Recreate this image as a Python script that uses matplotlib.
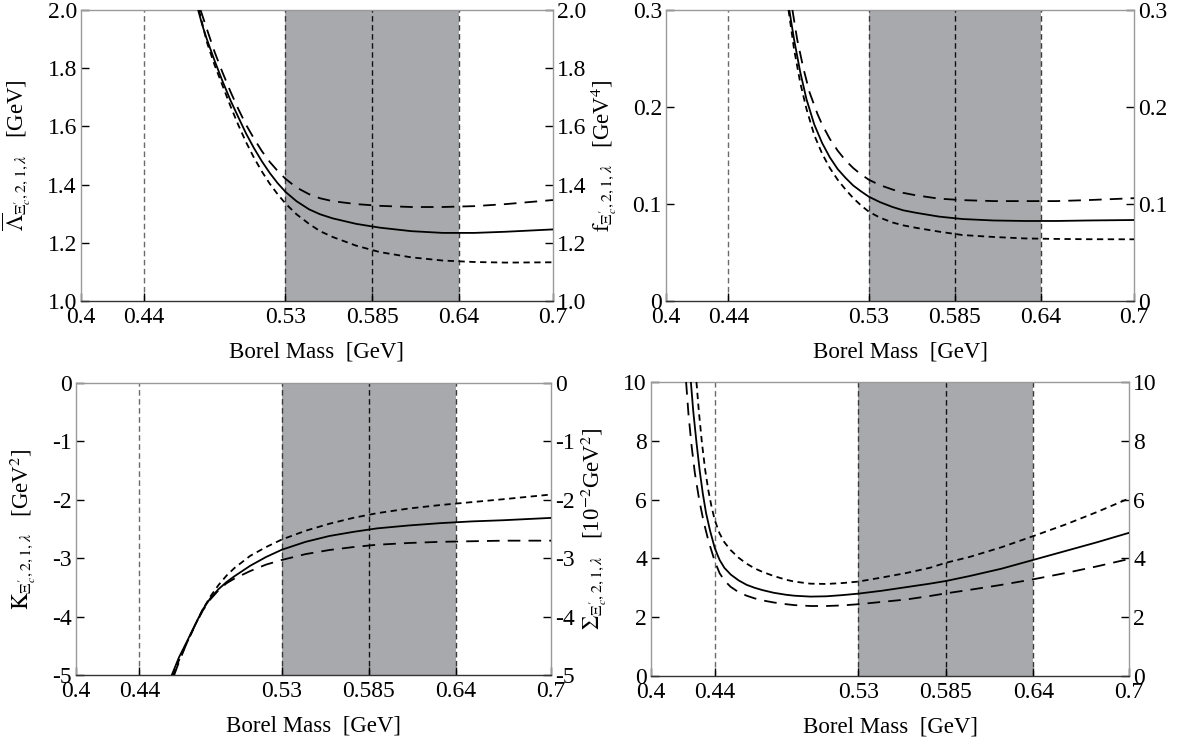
import matplotlib
matplotlib.use("Agg")
import matplotlib.pyplot as plt

plt.rcParams['font.family'] = ['Liberation Serif', 'DejaVu Serif']
plt.rcParams['mathtext.fontset'] = 'stix'

# window lines and shaded working region
m_lines = [0.44, 0.53, 0.585, 0.64]
line_colors = ['#6a6a6a', '#3a3a3a', '#111111', '#3a3a3a']
band = (0.53, 0.64)
x_ticks = [0.4, 0.44, 0.53, 0.585, 0.64, 0.7]
x_labels = ['0.4', '0.44', '0.53', '0.585', '0.64', '0.7']

# panel 1: Lambda bar [GeV]
lam_m_mid = [0.4745, 0.477, 0.48, 0.485, 0.49, 0.495, 0.50, 0.505, 0.51, 0.515, 0.52, 0.525, 0.53, 0.537, 0.545, 0.552, 0.56, 0.575, 0.59, 0.61, 0.63, 0.65, 0.67, 0.70]
lam_mid = [2.0, 1.95, 1.90, 1.825, 1.755, 1.69, 1.632, 1.575, 1.525, 1.48, 1.44, 1.405, 1.375, 1.343, 1.315, 1.298, 1.284, 1.265, 1.252, 1.240, 1.234, 1.234, 1.238, 1.246]
lam_m_up = [0.476, 0.48, 0.485, 0.49, 0.495, 0.50, 0.505, 0.51, 0.515, 0.52, 0.525, 0.53, 0.537, 0.545, 0.552, 0.56, 0.575, 0.59, 0.61, 0.63, 0.65, 0.67, 0.70]
lam_up = [2.0, 1.935, 1.855, 1.785, 1.72, 1.66, 1.605, 1.558, 1.515, 1.478, 1.447, 1.42, 1.39, 1.367, 1.353, 1.343, 1.333, 1.327, 1.323, 1.323, 1.326, 1.333, 1.347]
lam_m_lo = [0.475, 0.48, 0.485, 0.49, 0.495, 0.50, 0.505, 0.51, 0.515, 0.52, 0.525, 0.53, 0.537, 0.545, 0.552, 0.56, 0.575, 0.59, 0.61, 0.63, 0.65, 0.67, 0.70]
lam_lo = [2.0, 1.89, 1.81, 1.74, 1.67, 1.605, 1.545, 1.492, 1.445, 1.403, 1.367, 1.335, 1.298, 1.265, 1.24, 1.22, 1.19, 1.168, 1.15, 1.139, 1.134, 1.132, 1.133]

# panel 2: f [GeV^4]
f_m_mid = [0.479, 0.482, 0.486, 0.49, 0.495, 0.50, 0.505, 0.51, 0.515, 0.52, 0.525, 0.53, 0.537, 0.545, 0.552, 0.56, 0.575, 0.59, 0.61, 0.63, 0.65, 0.67, 0.70]
f_mid = [0.30, 0.27, 0.236, 0.208, 0.182, 0.163, 0.148, 0.136, 0.127, 0.119, 0.113, 0.1075, 0.102, 0.097, 0.0935, 0.091, 0.087, 0.0845, 0.083, 0.0825, 0.0825, 0.083, 0.0835]
f_m_up = [0.481, 0.484, 0.488, 0.492, 0.497, 0.50, 0.505, 0.51, 0.515, 0.52, 0.525, 0.53, 0.537, 0.545, 0.552, 0.56, 0.575, 0.59, 0.61, 0.63, 0.65, 0.67, 0.70]
f_up = [0.30, 0.27, 0.24, 0.215, 0.193, 0.182, 0.167, 0.155, 0.145, 0.137, 0.1305, 0.125, 0.1195, 0.115, 0.1115, 0.109, 0.1055, 0.104, 0.103, 0.103, 0.103, 0.104, 0.106]
f_m_lo = [0.4785, 0.482, 0.486, 0.49, 0.495, 0.50, 0.505, 0.51, 0.515, 0.52, 0.525, 0.53, 0.537, 0.545, 0.552, 0.56, 0.575, 0.59, 0.61, 0.63, 0.65, 0.67, 0.70]
f_lo = [0.30, 0.26, 0.225, 0.198, 0.171, 0.152, 0.137, 0.125, 0.115, 0.106, 0.0985, 0.092, 0.086, 0.081, 0.078, 0.0755, 0.0715, 0.068, 0.066, 0.0645, 0.064, 0.0637, 0.0636]

# panel 3: K [GeV^2]
k_m_mid = [0.4605, 0.465, 0.47, 0.475, 0.48, 0.485, 0.49, 0.495, 0.50, 0.51, 0.52, 0.53, 0.545, 0.56, 0.575, 0.59, 0.61, 0.63, 0.65, 0.67, 0.70]
k_mid = [-5.0, -4.70, -4.43, -4.15, -3.88, -3.68, -3.53, -3.41, -3.31, -3.13, -2.98, -2.855, -2.72, -2.62, -2.55, -2.49, -2.44, -2.40, -2.37, -2.35, -2.31]
k_m_up = [0.4615, 0.465, 0.47, 0.475, 0.48, 0.485, 0.49, 0.495, 0.50, 0.51, 0.52, 0.53, 0.545, 0.56, 0.575, 0.59, 0.61, 0.63, 0.65, 0.67, 0.70]
k_up = [-5.0, -4.75, -4.45, -4.16, -3.88, -3.65, -3.46, -3.30, -3.17, -2.96, -2.81, -2.68, -2.53, -2.41, -2.31, -2.23, -2.15, -2.09, -2.04, -1.99, -1.91]
k_m_lo = [0.462, 0.465, 0.47, 0.475, 0.48, 0.485, 0.49, 0.495, 0.50, 0.51, 0.52, 0.53, 0.545, 0.56, 0.575, 0.59, 0.61, 0.63, 0.65, 0.67, 0.70]
k_lo = [-5.0, -4.78, -4.45, -4.16, -3.9, -3.7, -3.55, -3.43, -3.35, -3.22, -3.11, -3.03, -2.93, -2.86, -2.81, -2.77, -2.74, -2.72, -2.71, -2.70, -2.70]

# panel 4: Sigma [10^-2 GeV^2]
s_m_mid = [0.425, 0.4265, 0.4285, 0.4305, 0.4325, 0.4345, 0.437, 0.44, 0.443, 0.446, 0.45, 0.455, 0.46, 0.465, 0.47, 0.477, 0.485, 0.49, 0.50, 0.51, 0.52, 0.53, 0.545, 0.56, 0.575, 0.585, 0.60, 0.62, 0.64, 0.66, 0.68, 0.70]
s_mid = [10.0, 9.0, 7.95, 7.0, 6.2, 5.55, 4.95, 4.35, 3.95, 3.68, 3.45, 3.25, 3.10, 3.0, 2.92, 2.83, 2.76, 2.73, 2.70, 2.71, 2.75, 2.80, 2.90, 3.02, 3.14, 3.23, 3.40, 3.65, 3.95, 4.25, 4.55, 4.87]
s_m_up = [0.4285, 0.430, 0.432, 0.434, 0.436, 0.438, 0.44, 0.443, 0.446, 0.45, 0.455, 0.46, 0.465, 0.47, 0.477, 0.485, 0.49, 0.50, 0.51, 0.52, 0.53, 0.545, 0.56, 0.575, 0.585, 0.60, 0.62, 0.64, 0.66, 0.68, 0.70]
s_up = [10.0, 9.0, 7.9, 7.0, 6.3, 5.75, 5.3, 4.85, 4.55, 4.28, 4.02, 3.82, 3.66, 3.54, 3.40, 3.27, 3.21, 3.14, 3.13, 3.16, 3.21, 3.35, 3.50, 3.68, 3.85, 4.05, 4.38, 4.76, 5.15, 5.58, 6.04]
s_m_lo = [0.422, 0.4235, 0.4255, 0.4275, 0.4302, 0.433, 0.436, 0.44, 0.443, 0.446, 0.45, 0.455, 0.46, 0.465, 0.47, 0.477, 0.485, 0.49, 0.50, 0.51, 0.52, 0.53, 0.545, 0.56, 0.575, 0.585, 0.60, 0.62, 0.64, 0.66, 0.68, 0.70]
s_lo = [10.0, 8.9, 7.8, 6.9, 6.0, 5.25, 4.6, 3.9, 3.5, 3.25, 3.03, 2.85, 2.73, 2.64, 2.57, 2.50, 2.44, 2.41, 2.38, 2.38, 2.40, 2.44, 2.52, 2.60, 2.72, 2.81, 2.93, 3.10, 3.29, 3.50, 3.73, 3.98]

panels = [
    dict(rect=[0.0685, 0.5976, 0.3993, 0.389], ylim=(1.0, 2.0),
         yticks=[1.0, 1.2, 1.4, 1.6, 1.8, 2.0], ylabels=['1.0', '1.2', '1.4', '1.6', '1.8', '2.0'],
         ylabel=r'$\overline{\mathit{\Lambda}}_{\Xi^{\prime}_c,2,1,\lambda}$   [GeV]',
         mid=(lam_m_mid, lam_mid), up=(lam_m_up, lam_up), lo=(lam_m_lo, lam_lo),
         up_style='long', lo_style='short'),
    dict(rect=[0.5635, 0.5976, 0.396, 0.389], ylim=(0.0, 0.3),
         yticks=[0, 0.1, 0.2, 0.3], ylabels=['0', '0.1', '0.2', '0.3'],
         ylabel=r'$\mathrm{f}_{\Xi^{\prime}_c,2,1,\lambda}$   [GeV$^4$]',
         mid=(f_m_mid, f_mid), up=(f_m_up, f_up), lo=(f_m_lo, f_lo),
         up_style='long', lo_style='short'),
    dict(rect=[0.0643, 0.0976, 0.4019, 0.3904], ylim=(-5.0, 0.0),
         yticks=[-5, -4, -3, -2, -1, 0], ylabels=['-5', '-4', '-3', '-2', '-1', '0'],
         ylabel=r'$\mathrm{K}_{\Xi^{\prime}_c,2,1,\lambda}$   [GeV$^2$]',
         mid=(k_m_mid, k_mid), up=(k_m_up, k_up), lo=(k_m_lo, k_lo),
         up_style='short', lo_style='long'),
    dict(rect=[0.5508, 0.0963, 0.4044, 0.393], ylim=(0.0, 10.0),
         yticks=[0, 2, 4, 6, 8, 10], ylabels=['0', '2', '4', '6', '8', '10'],
         ylabel=r'$\Sigma_{\Xi^{\prime}_c,2,1,\lambda}$   [10$^{-2}$GeV$^2$]',
         mid=(s_m_mid, s_mid), up=(s_m_up, s_up), lo=(s_m_lo, s_lo),
         up_style='short', lo_style='long'),
]

dash = {'long': (0, (7, 4.5)), 'short': (0, (3.5, 2.5))}

fig = plt.figure(figsize=(11.82, 7.48), dpi=100)

for p in panels:
    ax = fig.add_axes(p['rect'])
    ax.axvspan(band[0], band[1], color='#a8a9ac', lw=0, zorder=0)
    for xv, c in zip(m_lines, line_colors):
        ax.axvline(xv, color=c, lw=1.0, ls=(0, (4, 2.5)), zorder=1)
    ax.plot(*p['mid'], color='black', lw=1.3, zorder=3)
    ax.plot(*p['up'], color='black', lw=1.3, ls=dash[p['up_style']], zorder=3)
    ax.plot(*p['lo'], color='black', lw=1.3, ls=dash[p['lo_style']], zorder=3)

    ax.set_xlim(0.4, 0.7)
    ax.set_ylim(*p['ylim'])
    ax.set_xticks(x_ticks)
    ax.set_xticklabels(x_labels)
    ax.set_yticks(p['yticks'])
    ax.set_yticklabels(p['ylabels'])
    ax.tick_params(axis='y', direction='in', length=6, width=1.0, color='black',
                   left=True, right=True, labelleft=True, labelright=True,
                   labelsize=17, pad=3)
    ax.tick_params(axis='x', direction='in', length=6, width=1.0, color='black',
                   labelsize=17, pad=4)
    for side in ['left', 'right', 'top']:
        ax.spines[side].set_color('#9a9a9a')
        ax.spines[side].set_linewidth(1.0)
    ax.spines['bottom'].set_color('#333333')
    ax.spines['bottom'].set_linewidth(1.0)
    ax.set_xlabel('Borel Mass  [GeV]', fontsize=16.5, labelpad=10)
    ax.set_ylabel(p['ylabel'], fontsize=16.5, labelpad=10)

fig.savefig('out.png', dpi=100)
